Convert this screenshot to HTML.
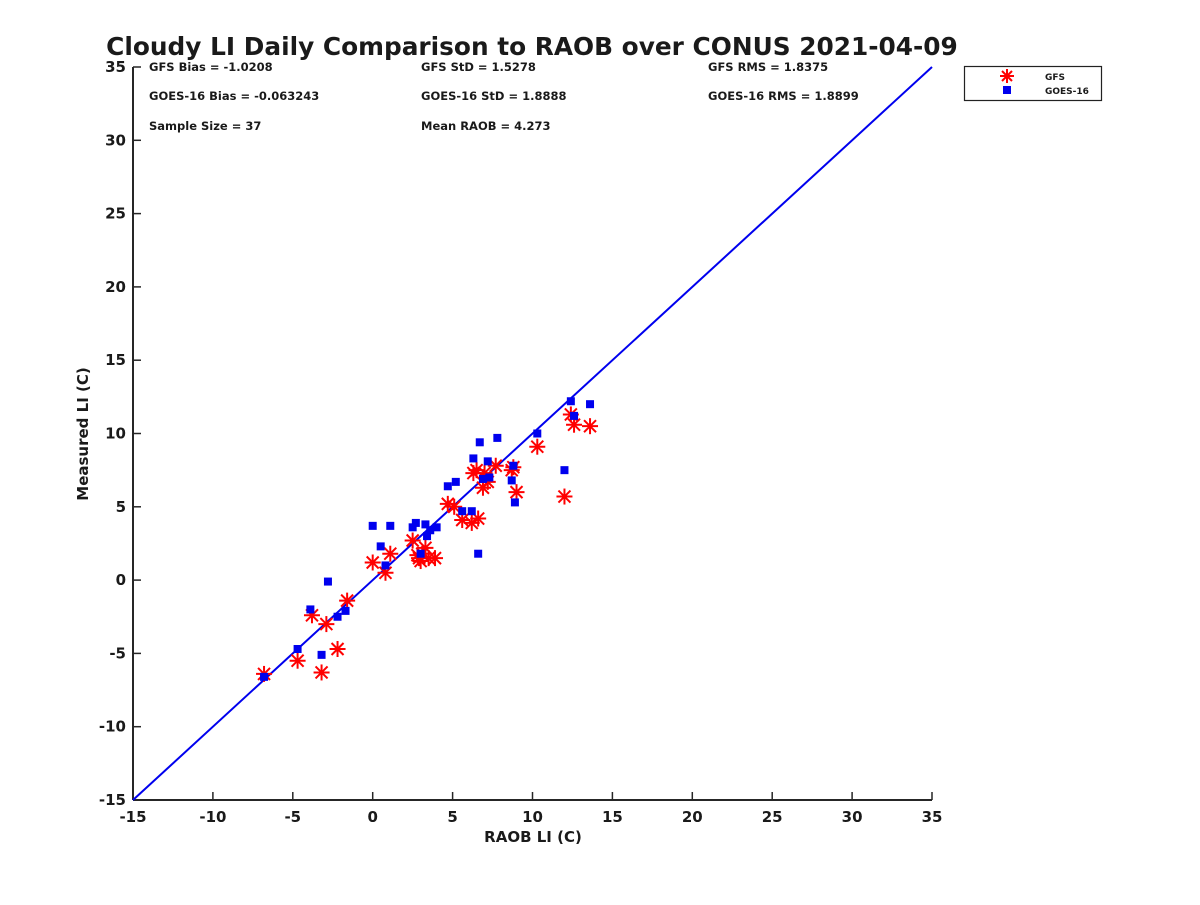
<!DOCTYPE html>
<html><head><meta charset="utf-8"><style>
body{margin:0;background:#fff}
svg text{font-family:"DejaVu Sans","Liberation Sans",sans-serif;font-weight:bold;fill:#1a1a1a}
</style></head><body>
<svg id="chart" width="1200" height="900" xmlns="http://www.w3.org/2000/svg">
<text x="532" y="55" text-anchor="middle" font-size="24.8">Cloudy LI Daily Comparison to RAOB over CONUS 2021-04-09</text>
<g id="axes"></g>
<g id="marks"></g>
<g font-size="11.5">
<text x="149" y="71">GFS Bias = -1.0208</text>
<text x="149" y="100">GOES-16 Bias = -0.063243</text>
<text x="149" y="130">Sample Size = 37</text>
<text x="421" y="71">GFS StD = 1.5278</text>
<text x="421" y="100">GOES-16 StD = 1.8888</text>
<text x="421" y="130">Mean RAOB = 4.273</text>
<text x="708" y="71">GFS RMS = 1.8375</text>
<text x="708" y="100">GOES-16 RMS = 1.8899</text>
</g>
<g>
<rect x="964.5" y="66.5" width="137" height="34" fill="#fff" stroke="#222" stroke-width="1.2"/>
<g>
<g stroke="red" stroke-width="2" transform="translate(1007,76)"><line x1="-7" y1="0" x2="7" y2="0"/><line x1="0" y1="-7" x2="0" y2="7"/><line x1="-5" y1="-5" x2="5" y2="5"/><line x1="-5" y1="5" x2="5" y2="-5"/></g>
<text x="1045" y="80" font-size="9">GFS</text></g>
<g>
<rect x="1003" y="86" width="8" height="8" fill="#0000ee"/>
<text x="1045" y="94" font-size="9">GOES-16</text></g>
</g>
<text x="533" y="842" text-anchor="middle" font-size="15">RAOB LI (C)</text>
<text transform="translate(88,434) rotate(-90)" text-anchor="middle" font-size="15">Measured LI (C)</text>
</svg>
<script>
const xTicks=[-15,-10,-5,0,5,10,15,20,25,30,35];
const yTicks=[-15,-10,-5,0,5,10,15,20,25,30,35];
const gfsX=[-6.8,-4.7,-3.2,-3.8,-2.9,-1.6,-2.2,0,0.8,1.1,2.5,2.8,3.0,3.3,3.5,3.9,4.7,5.1,5.6,6.2,6.6,6.3,6.9,7.2,7.0,7.7,8.8,9.0,10.3,12.0,12.4,12.6,13.6,6.5,8.7,3.1,2.9];
const gfsY=[-6.4,-5.5,-6.3,-2.4,-3.0,-1.4,-4.7,1.2,0.5,1.8,2.7,1.7,1.3,2.2,1.5,1.5,5.2,5.0,4.1,3.9,4.2,7.3,6.3,6.7,7.3,7.8,7.7,6.0,9.1,5.7,11.3,10.6,10.5,7.5,7.5,1.8,1.5];
const goesX=[-6.8,-4.7,-3.9,-3.2,-2.8,-2.2,-1.7,0,0.5,0.8,1.1,2.5,2.7,3.0,3.3,3.4,3.6,4.0,4.7,5.2,5.6,6.2,6.3,6.7,6.6,6.9,7.2,7.3,7.8,8.7,8.8,8.9,10.3,12.0,12.4,12.6,13.6];
const goesY=[-6.6,-4.7,-2.0,-5.1,-0.1,-2.5,-2.1,3.7,2.3,1.0,3.7,3.6,3.9,1.8,3.8,3.0,3.4,3.6,6.4,6.7,4.7,4.7,8.3,9.4,1.8,6.9,8.1,7.0,9.7,6.8,7.8,5.3,10.0,7.5,12.2,11.2,12.0];
const X0=133,X1=932,Y0=800,Y1=67;
const sx=v=>X0+(v+15)/50*(X1-X0);
const sy=v=>Y0-(v+15)/50*(Y0-Y1);
const NS="http://www.w3.org/2000/svg";
function mk(t,a,p){const e=document.createElementNS(NS,t);for(const k in a)e.setAttribute(k,a[k]);p.appendChild(e);return e;}
const ax=document.getElementById('axes'),mg=document.getElementById('marks');
let l=mk('line',{x1:X0,y1:Y0,x2:X1,y2:Y0,stroke:'#262626','stroke-width':2},ax);


l=mk('line',{x1:X0,y1:Y0,x2:X0,y2:Y1,stroke:'#262626','stroke-width':2},ax);


xTicks.forEach(v=>{mk('line',{x1:sx(v),y1:Y0,x2:sx(v),y2:Y0-8,stroke:'#262626','stroke-width':1.5},ax);
const t=mk('text',{x:sx(v),y:Y0+22,'text-anchor':'middle','font-size':15},ax);t.textContent=v;

});
yTicks.forEach(v=>{mk('line',{x1:X0,y1:sy(v),x2:X0+8,y2:sy(v),stroke:'#262626','stroke-width':1.5},ax);
const t=mk('text',{x:X0-7,y:sy(v)+5,'text-anchor':'end','font-size':15},ax);t.textContent=v;

});
const ref=mk('line',{x1:sx(-15),y1:sy(-15),x2:sx(35),y2:sy(35),stroke:'#0000ee','stroke-width':2},mg);


gfsX.forEach((v,i)=>{const g=mk('g',{stroke:'red','stroke-width':2,transform:`translate(${sx(v)},${sy(gfsY[i])})`},mg);


mk('line',{x1:-8,y1:0,x2:8,y2:0},g);mk('line',{x1:0,y1:-8,x2:0,y2:8},g);
mk('line',{x1:-6,y1:-6,x2:6,y2:6},g);mk('line',{x1:-6,y1:6,x2:6,y2:-6},g);});
goesX.forEach((v,i)=>{const r=mk('rect',{x:sx(v)-4,y:sy(goesY[i])-4,width:8,height:8,fill:'#0000ee'},mg);

});
</script>
</body></html>
